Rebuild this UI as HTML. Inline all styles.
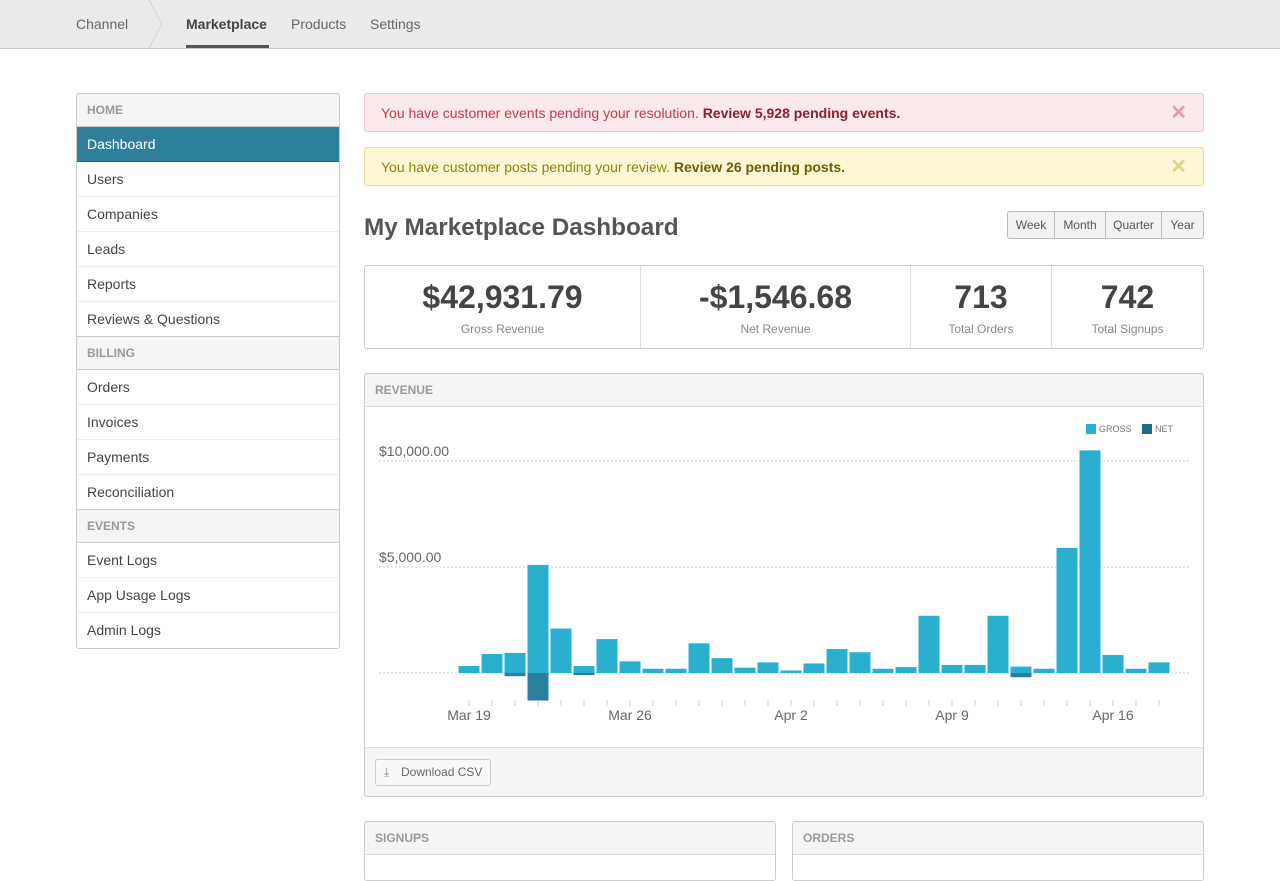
<!DOCTYPE html>
<html><head><meta charset="utf-8">
<style>
*{box-sizing:border-box;margin:0;padding:0}
body{width:1280px;height:853px;overflow:hidden;background:#fff;font-family:"Liberation Sans",Arial,sans-serif;color:#555;position:relative}
.abs{position:absolute}
.nav{left:0;top:0;width:1280px;height:49px;background:#ebebeb;border-bottom:1px solid #cfcfcf}
.nav span{position:absolute;top:16px;font-size:14px;color:#666}
.side{left:76px;top:93px;width:264px;border:1px solid #ccc;border-radius:3px;overflow:hidden}
.side div{height:35px;line-height:34px;padding-left:10px;font-size:14px;color:#444;border-bottom:1px solid #eee}
.side .h{height:33px;line-height:32px;background:#f5f5f5;color:#999;font-weight:bold;font-size:12px;border-bottom:1px solid #ccc}
.side .act{background:#2e7f9b;color:#fff;border-bottom:1px solid #1f5e74}
.alert{left:364px;width:840px;height:39px;border-radius:3px;font-size:14px;line-height:38px;padding-left:16px}
.x{position:absolute;right:16px;top:0;font-size:20px;font-weight:bold}
.btns{left:1007px;top:211px;width:197px;height:28px;display:flex;border:1px solid #bbb;border-radius:3px;overflow:hidden;background:#f3f3f3}
.btns div{font-size:12px;line-height:26px;text-align:center;border-right:1px solid #bbb;color:#555}
.stats{left:364px;top:265px;width:840px;height:84px;border:1px solid #ccc;border-radius:3px}
.stat{position:absolute;top:0;height:82px;text-align:center;border-right:1px solid #ddd}
.stat b{display:block;font-size:32px;margin-top:13px;color:#444}
.stat small{display:block;font-size:12px;color:#888;margin-top:6px}
.panel{border:1px solid #ccc;border-radius:3px;overflow:hidden}
.ph{height:33px;background:#f5f5f5;border-bottom:1px solid #ddd;font-size:12px;font-weight:bold;color:#999;line-height:32px;padding-left:10px}
</style></head><body>
<div class="abs nav">
<span style="left:76px">Channel</span>
<svg class="abs" style="left:146px;top:0" width="20" height="48"><polyline points="3,0 16,24 3,48" fill="none" stroke="#d4d4d4" stroke-width="1"/></svg>
<span style="left:186px;font-weight:bold;color:#444">Marketplace</span>
<div class="abs" style="left:186px;top:45px;width:83px;height:3px;background:#555"></div>
<span style="left:291px">Products</span>
<span style="left:370px">Settings</span>
</div>

<div class="abs side">
<div class="h">HOME</div>
<div class="act">Dashboard</div>
<div>Users</div>
<div>Companies</div>
<div>Leads</div>
<div>Reports</div>
<div style="border-bottom:1px solid #ccc">Reviews &amp; Questions</div>
<div class="h">BILLING</div>
<div>Orders</div>
<div>Invoices</div>
<div>Payments</div>
<div style="border-bottom:1px solid #ccc">Reconciliation</div>
<div class="h">EVENTS</div>
<div>Event Logs</div>
<div>App Usage Logs</div>
<div style="border-bottom:none">Admin Logs</div>
</div>

<div class="abs alert" style="top:93px;background:#fbe9ec;border:1px solid #f1c8cf;color:#c13a52">You have customer events pending your resolution. <b style="color:#8a1f33">Review 5,928 pending events.</b><span class="x" style="color:#e79aa8">✕</span></div>
<div class="abs alert" style="top:147px;background:#fcf8d6;border:1px solid #ebe08e;color:#8e7f12">You have customer posts pending your review. <b style="color:#6b5e06">Review 26 pending posts.</b><span class="x" style="color:#ddd58a">✕</span></div>

<div class="abs" style="left:364px;top:214px;font-size:24.3px;font-weight:bold;color:#555">My Marketplace Dashboard</div>
<div class="abs btns">
<div style="width:47px">Week</div><div style="width:51px">Month</div><div style="width:56px">Quarter</div><div style="width:41px;border-right:none">Year</div>
</div>

<div class="abs stats">
<div class="stat" style="left:0;width:276px"><b>$42,931.79</b><small>Gross Revenue</small></div>
<div class="stat" style="left:276px;width:270px"><b>-$1,546.68</b><small>Net Revenue</small></div>
<div class="stat" style="left:546px;width:141px"><b>713</b><small>Total Orders</small></div>
<div class="stat" style="left:687px;width:151px;border-right:none"><b>742</b><small>Total Signups</small></div>
</div>

<div class="abs panel" style="left:364px;top:373px;width:840px;height:424px">
<div class="ph">REVENUE</div>
<svg id="chart" width="838" height="339" style="display:block"></svg>
<div style="position:absolute;left:0;top:373px;width:838px;height:50px;background:#f5f5f5;border-top:1px solid #ddd">
<div style="position:absolute;left:10px;top:11px;width:116px;height:27px;border:1px solid #ccc;border-radius:3px;background:#f8f8f8;font-size:12px;line-height:25px;padding-left:25px;color:#666"><span style="position:absolute;left:8px;top:0;color:#888">⤓</span>Download CSV</div>
</div>
</div>

<div class="abs panel" style="left:364px;top:821px;width:412px;height:60px"><div class="ph">SIGNUPS</div></div>
<div class="abs panel" style="left:792px;top:821px;width:412px;height:60px"><div class="ph">ORDERS</div></div>

<script>
const days=["Mar 19","Mar 20","Mar 21","Mar 22","Mar 23","Mar 24","Mar 25","Mar 26","Mar 27","Mar 28","Mar 29","Mar 30","Mar 31","Apr 1","Apr 2","Apr 3","Apr 4","Apr 5","Apr 6","Apr 7","Apr 8","Apr 9","Apr 10","Apr 11","Apr 12","Apr 13","Apr 14","Apr 15","Apr 16","Apr 17","Apr 18"];
const gross=[330,900,950,5100,2100,330,1600,550,200,200,1400,700,250,500,120,450,1130,980,200,280,2700,380,380,2700,300,200,5900,10500,850,200,500];
const net=[0,0,-150,-1300,0,-100,0,0,0,0,0,0,0,0,0,0,0,0,0,0,0,0,0,0,-200,0,0,0,0,0,0];
const yTicks=[0,5000,10000];
const yTickLabels=["","$5,000.00","$10,000.00"];
const xLabelIdx=[0,7,14,21,28];
const NS="http://www.w3.org/2000/svg";
const svg=document.getElementById('chart');
const y=v=>266-v*0.0212;
const x=i=>104+23*i;
function mk(t,a){const e=document.createElementNS(NS,t);for(const k in a)e.setAttribute(k,a[k]);svg.appendChild(e);return e;}
yTicks.forEach((v,i)=>{
 const l=mk('line',{x1:14,x2:825,y1:y(v),y2:y(v),stroke:'#ccc','stroke-dasharray':'2,2'});
 
 
 if(yTickLabels[i]){const t=mk('text',{x:14,y:y(v)-5,'font-size':14,fill:'#666','font-family':'Liberation Sans, sans-serif'});t.textContent=yTickLabels[i];
 
 }
});
gross.forEach((g,i)=>{
 const b=mk('rect',{x:x(i)-10.5,width:21,y:y(Math.max(g,0)),height:Math.abs(g)*0.0212,fill:'#2aafcf'});
 
 
 if(net[i]){const n=net[i];const r=mk('rect',{x:x(i)-10.5,width:21,y:y(Math.max(n,0)),height:Math.abs(n)*0.0212,fill:'#2b7f9e'});
 
 }
 const tk=mk('line',{x1:x(i),x2:x(i),y1:y(0)+27,y2:y(0)+33,stroke:'#ccc'});
 
 
});
xLabelIdx.forEach(i=>{const t=mk('text',{x:x(i),y:y(0)+47,'text-anchor':'middle','font-size':14,fill:'#666','font-family':'Liberation Sans, sans-serif'});t.textContent=days[i];
 
 });
[['GROSS','#2aafcf',721],['NET','#1d6a86',777]].forEach(([n,c,lx])=>{
 const r=mk('rect',{x:lx,y:17,width:10,height:10,fill:c});
 
 
 const t=mk('text',{x:lx+13,y:25,'font-size':9,fill:'#777','font-family':'Liberation Sans, sans-serif'});t.textContent=n;
 
 
});
</script>
</body></html>
